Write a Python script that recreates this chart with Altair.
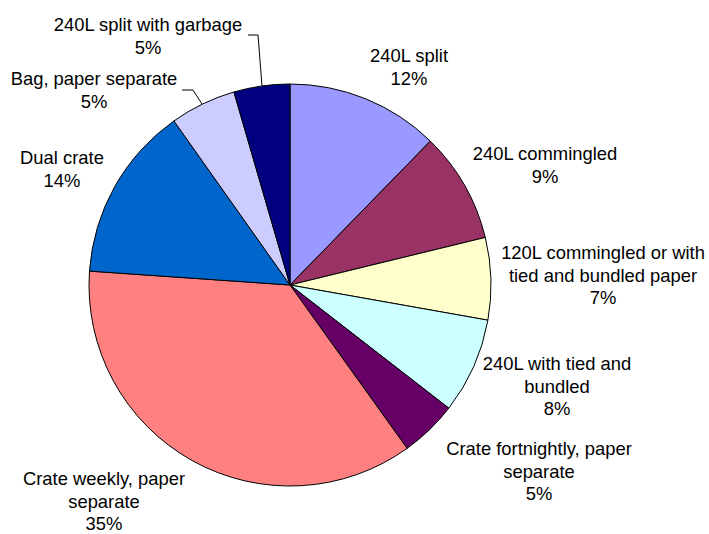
import altair as alt
import pandas as pd

# Data (clockwise from 12 o'clock)
categories = [
    "240L split",
    "240L commingled",
    "120L commingled or with tied and bundled paper",
    "240L with tied and bundled",
    "Crate fortnightly, paper separate",
    "Crate weekly, paper separate",
    "Dual crate",
    "Bag, paper separate",
    "240L split with garbage",
]
shares = [12.3, 8.9, 6.6, 7.7, 4.6, 36.0, 14.1, 5.3, 4.5]
# percentages printed in the labels
pct_labels = ["12%", "9%", "7%", "8%", "5%", "35%", "14%", "5%", "5%"]
# label wording as broken over lines in the picture
label_lines = [
    "240L split",
    "240L commingled",
    "120L commingled or with\ntied and bundled paper",
    "240L with tied and\nbundled",
    "Crate fortnightly, paper\nseparate",
    "Crate weekly, paper\nseparate",
    "Dual crate",
    "Bag, paper separate",
    "240L split with garbage",
]

# styling / layout (kept apart from the data)
colors = ["#9999FF", "#993366", "#FFFFCC", "#CCFFFF", "#660066",
          "#FF8080", "#0066CC", "#CCCCFF", "#000080"]
label_x = [409, 545, 603, 557, 539, 104, 62, 94, 148]
label_y = [62, 160, 259, 370, 455, 485, 164, 85, 31]
leaders = [
    ("Bag, paper separate", [(182, 90), (193, 90), (202, 104)]),
    ("240L split with garbage", [(248, 35), (258, 35), (262, 86)]),
]
CX, CY, R = 290, 285, 201
FONT = "Liberation Sans, Arial, sans-serif"

pie_df = pd.DataFrame({
    "category": categories,
    "share": shares,
    "idx": list(range(len(categories))),
})
lab_df = pd.DataFrame({
    "category": categories,
    "text": [f"{t}\n{p}" for t, p in zip(label_lines, pct_labels)],
    "lx": label_x,
    "ly": label_y,
})
lead_rows = []
for name, pts in leaders:
    for i, (px, py) in enumerate(pts):
        lead_rows.append({"category": name, "k": i, "px": px, "py": py})
lead_df = pd.DataFrame(lead_rows)

pie = alt.Chart(pie_df).mark_arc(
    outerRadius=R, stroke="black", strokeWidth=1
).encode(
    theta=alt.Theta("share:Q", stack=True),
    color=alt.Color("category:N", scale=alt.Scale(domain=categories, range=colors), legend=None),
    order=alt.Order("idx:Q"),
    x=alt.value(CX),
    y=alt.value(CY),
)

labels = alt.Chart(lab_df).mark_text(
    font=FONT, fontSize=18.4, lineBreak="\n", lineHeight=22.5,
    align="center", baseline="alphabetic", color="black"
).encode(
    x=alt.X("lx:Q", scale=None, axis=None),
    y=alt.Y("ly:Q", scale=None, axis=None),
    text="text:N",
)

lead = alt.Chart(lead_df).mark_line(color="black", strokeWidth=1).encode(
    x=alt.X("px:Q", scale=None, axis=None),
    y=alt.Y("py:Q", scale=None, axis=None),
    detail="category:N",
    order="k:Q",
)

chart = alt.layer(pie, lead, labels).properties(
    width=709, height=534, padding=0,
    autosize=alt.AutoSizeParams(type="none"),
    background="white",
).configure_view(stroke=None)

chart.save("out.html", embed_options={"renderer": "svg", "actions": False})
